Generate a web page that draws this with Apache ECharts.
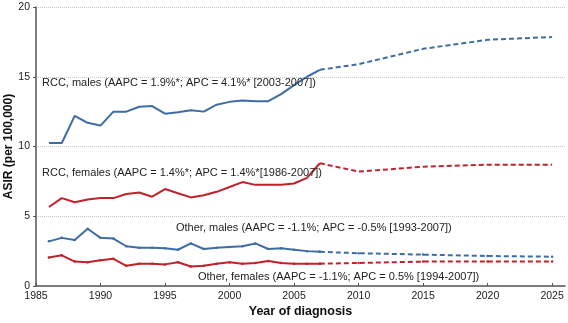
<!DOCTYPE html>
<html>
<head>
<meta charset="utf-8">
<script src="https://cdn.jsdelivr.net/npm/echarts@6/dist/echarts.min.js"></script>
<style>
  html, body { margin: 0; padding: 0; background: #fff; }
  #chart { width: 568px; height: 323px; }
</style>
</head>
<body>
<div id="chart"></div>
<script>
// observed years and projected years
const years = [1986, 1987, 1988, 1989, 1990, 1991, 1992, 1993, 1994, 1995, 1996,
  1997, 1998, 1999, 2000, 2001, 2002, 2003, 2004, 2005, 2006, 2007];
const projYears = [2007, 2010, 2015, 2020, 2025];

const rccMales = [10.25, 10.25, 12.2, 11.7, 11.5, 12.5, 12.5, 12.85, 12.9, 12.35, 12.45,
  12.6, 12.5, 13.0, 13.2, 13.3, 13.25, 13.25, 13.75, 14.4, 15.0, 15.5];
const rccMalesProj = [15.5, 15.9, 17.0, 17.65, 17.85];

const rccFemales = [5.66, 6.3, 6.0, 6.2, 6.3, 6.3, 6.6, 6.7, 6.4, 6.95, 6.65,
  6.35, 6.5, 6.75, 7.1, 7.45, 7.25, 7.25, 7.25, 7.35, 7.75, 8.8];
const rccFemalesProj = [8.8, 8.2, 8.55, 8.7, 8.7];

const otherMales = [3.2, 3.45, 3.3, 4.1, 3.45, 3.4, 2.85, 2.75, 2.75, 2.7, 2.6,
  3.05, 2.65, 2.75, 2.8, 2.85, 3.05, 2.65, 2.7, 2.6, 2.5, 2.45];
const otherMalesProj = [2.45, 2.35, 2.25, 2.15, 2.1];

const otherFemales = [2.05, 2.2, 1.75, 1.7, 1.85, 1.95, 1.45, 1.6, 1.6, 1.55, 1.7,
  1.4, 1.45, 1.6, 1.7, 1.6, 1.65, 1.8, 1.65, 1.6, 1.6, 1.6];
const otherFemalesProj = [1.6, 1.65, 1.75, 1.75, 1.75];

const labels = [
  "RCC, males (AAPC = 1.9%*; APC = 4.1%* [2003-2007])",
  "RCC, females (AAPC = 1.4%*; APC = 1.4%*[1986-2007])",
  "Other, males (AAPC = -1.1%; APC = -0.5% [1993-2007])",
  "Other, females (AAPC = -1.1%; APC = 0.5% [1994-2007])",
];

const BLUE = "#3e6da4";
const RED = "#c0222b";
const FONT = "Liberation Sans, Arial, sans-serif";

const pair = (xs, ys) => xs.map((x, i) => [x, ys[i]]);

function line(data, color, dashed, sym) {
  return {
    type: "line",
    data,
    symbol: sym ? "circle" : "none",
    symbolSize: 2.5,
    showSymbol: sym,
    itemStyle: { color },
    lineStyle: { color, width: 2, type: dashed ? [5, 3] : "solid" },
    animation: false,
    z: 3,
  };
}

const chart = echarts.init(document.getElementById("chart"), null, { renderer: "canvas" });

chart.setOption({
  backgroundColor: "#fff",
  animation: false,
  grid: { left: 36, right: 3, top: 7, bottom: 37, containLabel: false, outerBoundsMode: "none" },
  xAxis: {
    type: "value",
    min: 1985,
    max: 2026,
    interval: 5,
    name: "Year of diagnosis",
    nameLocation: "middle",
    nameGap: 19,
    nameMoveOverlap: false,
    nameTextStyle: { fontFamily: FONT, fontWeight: "bold", fontSize: 12.5, color: "#111" },
    axisLine: { lineStyle: { color: "#555", width: 1.5 } },
    axisTick: { inside: true, length: 3, lineStyle: { color: "#555" } },
    axisLabel: {
      fontFamily: FONT, fontSize: 10.5, color: "#222", margin: 5,
      showMaxLabel: false,
      formatter: v => (v % 5 === 0 ? String(v) : ""),
    },
    splitLine: { show: false },
  },
  yAxis: {
    type: "value",
    min: 0,
    max: 20,
    interval: 5,
    name: "ASIR (per 100,000)",
    nameLocation: "middle",
    nameGap: 21,
    nameMoveOverlap: false,
    nameTextStyle: { fontFamily: FONT, fontWeight: "bold", fontSize: 12, color: "#111" },
    axisLine: { show: true, lineStyle: { color: "#555", width: 1.5 } },
    axisTick: { show: true, length: 3, lineStyle: { color: "#555" } },
    axisLabel: { fontFamily: FONT, fontSize: 10.5, color: "#222", margin: 6 },
    splitLine: { show: true, lineStyle: { color: "#c8c8c8", type: "dotted" } },
  },
  graphic: [
    { type: "text", left: 42, top: 77, z: 10, style: { text: labels[0], font: "11px " + FONT, fill: "#222" } },
    { type: "text", left: 42, top: 167, z: 10, style: { text: labels[1], font: "11px " + FONT, fill: "#222" } },
    { type: "text", left: 176, top: 222, z: 10, style: { text: labels[2], font: "11px " + FONT, fill: "#222" } },
    { type: "text", left: 198, top: 271, z: 10, style: { text: labels[3], font: "11px " + FONT, fill: "#222" } },
  ],
  series: [
    line(pair(years, rccMales), BLUE, false, false),
    line(pair(projYears, rccMalesProj), BLUE, true, false),
    line(pair(years, rccFemales), RED, false, false),
    line(pair(projYears, rccFemalesProj), RED, true, false),
    line(pair(years, otherMales), BLUE, false, true),
    line(pair(projYears, otherMalesProj), BLUE, true, true),
    line(pair(years, otherFemales), RED, false, true),
    line(pair(projYears, otherFemalesProj), RED, true, true),
  ],
});
</script>
</body>
</html>
